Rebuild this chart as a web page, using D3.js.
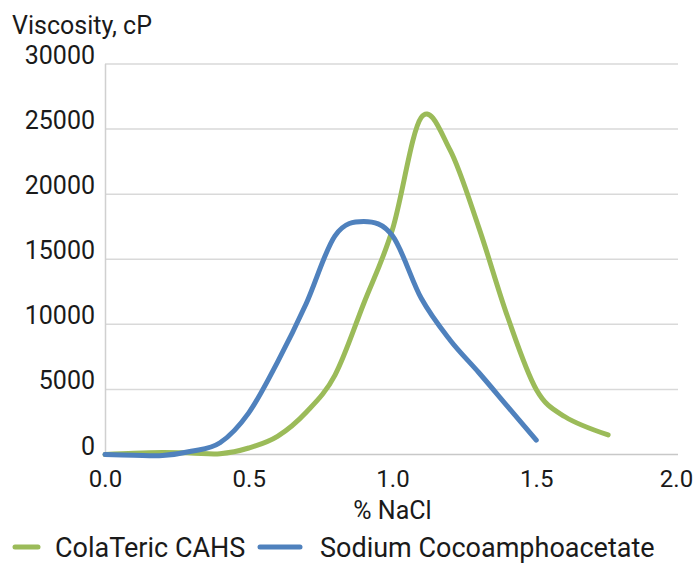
<!DOCTYPE html>
<html>
<head>
<meta charset="utf-8">
<script src="https://cdn.jsdelivr.net/npm/d3@7"></script>
<style>
  body { margin: 0; background: #fff; }
  text { font-family: Roboto, "Noto Sans", sans-serif; fill: #1a1a1a; }
</style>
</head>
<body>
<div id="chart"></div>
<script>
//Chart data.
var nacl = [0, 0.1, 0.2, 0.3, 0.4, 0.5, 0.6, 0.7, 0.8, 0.9, 1.0, 1.1, 1.2, 1.3, 1.4, 1.5, 1.6, 1.75];
var colateric = [0, 100, 150, 120, 60, 500, 1400, 3250, 6100, 11600, 17300, 25900, 23400, 17450, 10600, 5000, 2900, 1500];

var naclSodium = [0, 0.1, 0.2, 0.3, 0.4, 0.5, 0.6, 0.7, 0.8, 0.9, 1.0, 1.1, 1.2, 1.3, 1.4, 1.5];
var sodium = [0, -50, -80, 250, 900, 3200, 7100, 11600, 16800, 17900, 16800, 12000, 8800, 6300, 3700, 1100];

var xTicks = [0, 0.5, 1.0, 1.5, 2.0];
var yTicks = [0, 5000, 10000, 15000, 20000, 25000, 30000];
var seriesNames = ["ColaTeric CAHS", "Sodium Cocoamphoacetate"];
var seriesColors = ["#9bbb59", "#4f81bd"];

//SVG area and margins.
var svgWidth = 694;
var svgHeight = 563;
var margin = { top: 64, right: 14, bottom: 108.5, left: 105 };
var chartWidth = svgWidth - margin.left - margin.right;
var chartHeight = svgHeight - margin.top - margin.bottom;

var svg = d3.select("#chart")
  .append("svg")
  .attr("width", svgWidth)
  .attr("height", svgHeight);

var chart = svg.append("g")
  .attr("transform", "translate(" + margin.left + "," + margin.top + ")");

//Scales.
var xScale = d3.scaleLinear().domain([0, 2]).range([0, chartWidth]);
var yScale = d3.scaleLinear().domain([0, 30000]).range([chartHeight, 0]);

//Horizontal gridlines.
chart.append("g")
  .selectAll("line")
  .data(yTicks)
  .enter().append("line")
    .attr("x1", 0)
    .attr("x2", xScale(2) - 2)
    .attr("y1", function(d) { return yScale(d); })
    .attr("y2", function(d) { return yScale(d); })
    .attr("stroke", function(d) { return d === 0 ? "#c8c8c8" : "#d9d9d9"; })
    .attr("stroke-width", 1.5);

//Left axis line.
chart.append("line")
  .attr("x1", 0.5).attr("x2", 0.5)
  .attr("y1", yScale(30000)).attr("y2", yScale(0))
  .attr("stroke", "#d0d0d0")
  .attr("stroke-width", 1.5);

//Axes (labels only, no ticks).
var leftAxis = d3.axisLeft(yScale).tickValues(yTicks).tickSize(0).tickPadding(10)
  .tickFormat(function(d) { return d; });
var bottomAxis = d3.axisBottom(xScale).tickValues(xTicks).tickSize(0).tickPadding(15)
  .tickFormat(d3.format(".1f"));

var gy = chart.append("g").call(leftAxis);
gy.select(".domain").remove();
gy.selectAll("text")
  .attr("font-size", 25)
  .attr("dy", "-0.02em")
  .style("font-family", "Roboto, sans-serif")
  .attr("fill", "#1a1a1a");

var gx = chart.append("g")
  .attr("transform", "translate(0," + chartHeight + ")")
  .call(bottomAxis);
gx.select(".domain").remove();
gx.selectAll("text")
  .attr("font-size", 24)
  .style("font-family", "Roboto, sans-serif")
  .attr("fill", "#1a1a1a");
//The last label sits at the window edge, nudge it in a little.
gx.selectAll("text")
  .filter(function(d) { return d === 2; })
  .attr("dx", -4);

//Lines.
var line = d3.line()
  .x(function(d) { return xScale(d[0]); })
  .y(function(d) { return yScale(d[1]); })
  .curve(d3.curveCatmullRom.alpha(0));

var greenData = d3.zip(nacl, colateric);
var blueData = d3.zip(naclSodium, sodium);

chart.append("path")
  .datum(greenData)
  .attr("d", line)
  .attr("fill", "none")
  .attr("stroke", seriesColors[0])
  .attr("stroke-width", 5)
  .attr("stroke-linecap", "round")
  .attr("stroke-linejoin", "round");

chart.append("path")
  .datum(blueData)
  .attr("d", line)
  .attr("fill", "none")
  .attr("stroke", seriesColors[1])
  .attr("stroke-width", 5)
  .attr("stroke-linecap", "round")
  .attr("stroke-linejoin", "round");

//Axis titles.
svg.append("text")
  .attr("x", 12)
  .attr("y", 34)
  .attr("font-size", 25)
  .text("Viscosity, cP");

svg.append("text")
  .attr("x", margin.left + xScale(1))
  .attr("y", 519)
  .attr("text-anchor", "middle")
  .attr("font-size", 25)
  .text("% NaCl");

//Legend.
var legendX = [15, 260];
var legend = svg.append("g");
var items = legend.selectAll("g")
  .data(seriesNames)
  .enter().append("g")
    .attr("transform", function(d, i) { return "translate(" + legendX[i] + ",547)"; });

items.append("line")
  .attr("x1", 0)
  .attr("x2", function(d, i) { return i === 0 ? 23 : 40; })
  .attr("y1", 0).attr("y2", 0)
  .attr("stroke", function(d, i) { return seriesColors[i]; })
  .attr("stroke-width", 5)
  .attr("stroke-linecap", "round");

items.append("text")
  .attr("x", function(d, i) { return i === 0 ? 40 : 60; })
  .attr("y", 10)
  .attr("font-size", 27)
  .text(function(d) { return d; });
</script>
</body>
</html>
